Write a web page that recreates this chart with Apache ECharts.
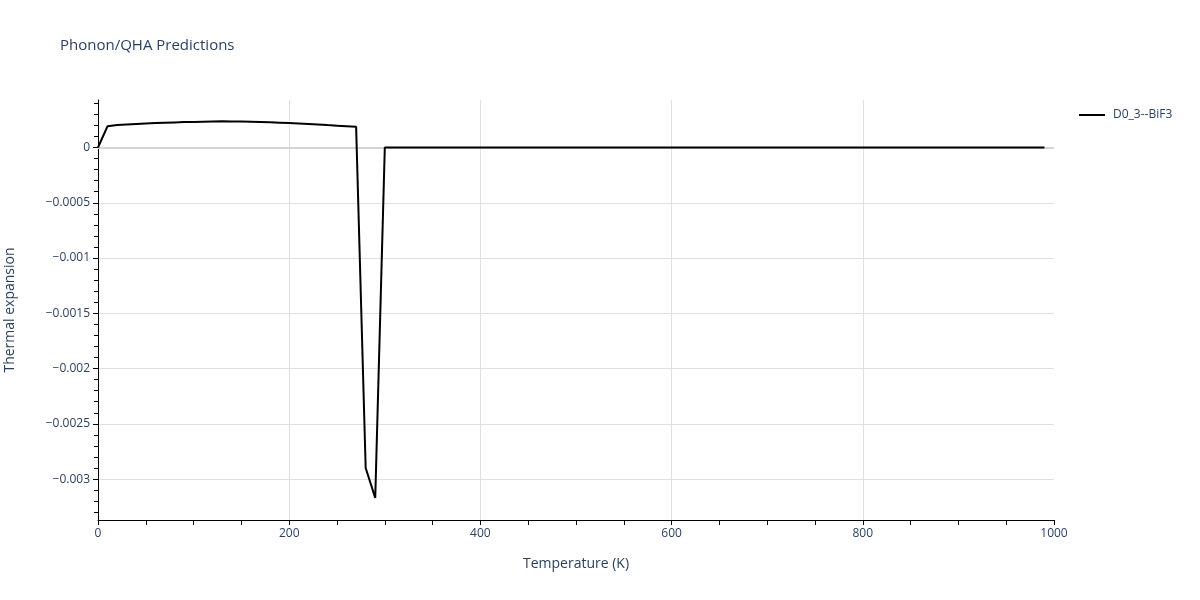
<!DOCTYPE html>
<html>
<head>
<meta charset="utf-8">
<script src="https://cdn.jsdelivr.net/npm/echarts@6/dist/echarts.min.js"></script>
<style>html,body{margin:0;padding:0;background:#fff}#c{width:1200px;height:600px}</style>
</head>
<body>
<div id="c"></div>
<script>
const temperatures = [0,10,20,30,40,50,60,70,80,90,100,110,120,130,140,150,160,170,180,190,200,210,220,230,240,250,260,270,280,290,300,400,500,600,700,800,900,990];
const thermalExpansion = [0,0.000193,0.000203,0.000209,0.000213,0.000217,0.000221,0.000224,0.000227,0.000230,0.000232,0.000234,0.000236,0.000237,0.000236,0.000235,0.000233,0.000231,0.000229,0.000225,0.000221,0.000217,0.000213,0.000209,0.000203,0.000198,0.000193,0.000187,-0.00290,-0.00317,0,0,0,0,0,0,0,0];
const seriesName = 'D0_3--BiF3';
const yMajorTicks = [-0.003,-0.0025,-0.002,-0.0015,-0.001,-0.0005,0];
const yMinorTicks = [-0.0033,-0.0032,-0.0031,-0.0029,-0.0028,-0.0027,-0.0026,-0.0024,-0.0023,-0.0022,-0.0021,-0.0019,-0.0018,-0.0017,-0.0016,-0.0014,-0.0013,-0.0012,-0.0011,-0.0009,-0.0008,-0.0007,-0.0006,-0.0004,-0.0003,-0.0002,-0.0001,0.0001,0.0002,0.0003,0.0004];
const yMin = -0.00337, yMax = 0.00043;

const fontFam = '"Open Sans", verdana, arial, sans-serif';
const txt = '#2a3f5f';
function fmtY(v){
  if (Math.abs(v) < 1e-12) return '0';
  const s = String(parseFloat(Math.abs(v).toPrecision(6)));
  return (v < 0 ? '\u2212' : '') + s;
}
const chart = echarts.init(document.getElementById('c'), null, {renderer:'canvas'});
chart.setOption({
  animation:false,
  backgroundColor:'#fff',
  title:{text:'Phonon/QHA Predictions', left:60, top:38, padding:0, textStyle:{fontFamily:fontFam, fontSize:15, fontWeight:'normal', color:txt}},
  legend:{left:1079, top:109, padding:0, itemWidth:26, itemHeight:14, itemGap:8, textStyle:{fontFamily:fontFam, fontSize:12, color:txt, padding:[0,0,0,3]}, data:[{name:seriesName, icon:'path://M0,6 L26,6 L26,8 L0,8 Z'}]},
  grid:{left:98, right:146, top:100, bottom:80, containLabel:false, outerBoundsMode:'none'},
  xAxis:{type:'value', min:0, max:1000, interval:200,
    name:'Temperature (K)', nameLocation:'middle', nameGap:37,
    nameTextStyle:{fontFamily:fontFam, fontSize:14, color:txt},
    axisLine:{show:true, onZero:false, lineStyle:{color:'#000', width:1}},
    axisTick:{show:true, length:5, lineStyle:{color:'#000'}},
    minorTick:{show:true, splitNumber:4, length:5, lineStyle:{color:'#000'}},
    axisLabel:{fontFamily:fontFam, fontSize:12, color:txt, margin:8, formatter:v=>String(v)},
    splitLine:{show:true, showMinLine:false, showMaxLine:false, lineStyle:{color:'#e0e0e0', width:1}}
  },
  yAxis:[{type:'value', min:yMin, max:yMax,
    name:'Thermal expansion', nameLocation:'middle', nameGap:81,
    nameTextStyle:{fontFamily:fontFam, fontSize:14, color:txt},
    axisLine:{show:true, onZero:false, lineStyle:{color:'#000', width:1}},
    axisTick:{show:true, length:5, lineStyle:{color:'#000'}, customValues:yMajorTicks},
    axisLabel:{fontFamily:fontFam, fontSize:12, color:txt, margin:8, customValues:yMajorTicks, formatter:fmtY},
    splitLine:{show:true, lineStyle:{color:'#e0e0e0', width:1}}
  },{type:'value', min:yMin, max:yMax, position:'left',
    axisLine:{show:false},
    axisTick:{show:true, length:4, lineStyle:{color:'#000'}, customValues:yMinorTicks},
    axisLabel:{show:false, customValues:yMinorTicks},
    splitLine:{show:false}
  }],
  series:[{
    name:seriesName, type:'line', yAxisIndex:0,
    data:temperatures.map((t,i)=>[t, thermalExpansion[i]]),
    showSymbol:false, symbol:'none',
    lineStyle:{color:'#000', width:2}, itemStyle:{color:'#000'},
    z:5,
    markLine:{silent:true, symbol:'none', label:{show:false}, animation:false,
      lineStyle:{color:'#d4d4d4', width:2, type:'solid'},
      data:[{yAxis:0}], z:1}
  }]
});
</script>
</body>
</html>
